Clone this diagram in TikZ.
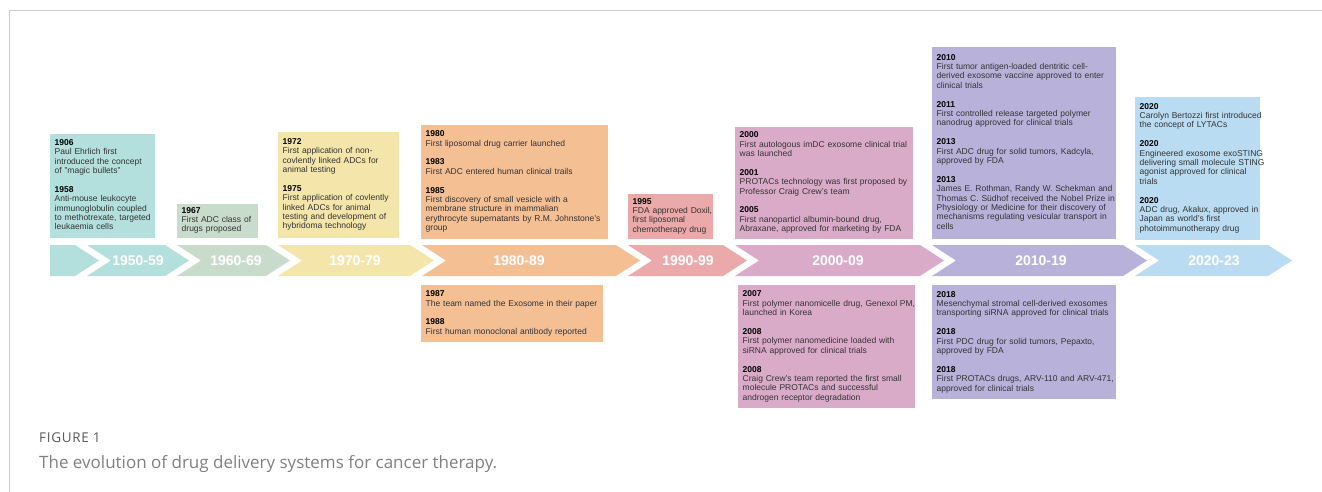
\documentclass[tikz,border=0pt]{standalone}
\usepackage{fontspec}
\setmainfont{Liberation Sans}
\newfontfamily\capfont{Open Sans}
\newfontfamily\capfontsp[LetterSpace=5]{Open Sans}
\usetikzlibrary{positioning}

\definecolor{evTeal}{HTML}{B3E0DC}
\definecolor{evGreen}{HTML}{C9DCCB}
\definecolor{evYellow}{HTML}{F4E6AA}
\definecolor{evOrange}{HTML}{F5BF94}
\definecolor{evPink}{HTML}{EBA9A9}
\definecolor{evMauve}{HTML}{DAABC9}
\definecolor{evLav}{HTML}{B8B2DA}
\definecolor{evBlue}{HTML}{BADCF2}
\definecolor{evText}{HTML}{333333}
\definecolor{evFrame}{HTML}{CCCCCC}

\newcommand{\evfont}{\fontsize{8.5}{9.4}\selectfont}
\newcommand{\yr}[1]{\textbf{\color{black}#1}\\}
\newcommand{\evgap}{\\[9.4pt]}
\newcommand{\evlines}[1]{\begin{tabular}{@{}l@{}}#1\end{tabular}}

% one chevron of the time band
\newcommand{\evchev}[6]{
	\pgfmathsetmacro{\CHl}{#1}
	\pgfmathsetmacro{\CHr}{#2}
	\fill[#3] (\CHl,245) -- (\CHr,245) -- (\CHr+24,260.5) -- (\CHr,276) -- (\CHl,276) -- (\CHl+24,260.5) -- cycle;
	\node[chevlabel] (#4) at (#5,260.5) {#6};
}

\tikzset{
	evbox/.style={fill=#1, inner xsep=4.5pt, inner ysep=3pt, align=left, font=\evfont, text=evText},
	chevlabel/.style={text=white, font=\bfseries\fontsize{14}{16}\selectfont},
}

\begin{document}
\begin{tikzpicture}[x=1pt,y=-1pt]
\useasboundingbox (0,0) rectangle (1322,492);
\draw[evFrame, line width=1pt] (9,492) -- (9,11) -- (1322,11);

% time band
\fill[evTeal] (50,245) -- (75,245) -- (99,260.5) -- (75,276) -- (50,276) -- cycle;
\evchev{87}{165}{evTeal}{p1950}{138}{1950-59}
\evchev{177}{266}{evGreen}{p1960}{236}{1960-69}
\evchev{278}{410}{evYellow}{p1970}{355}{1970-79}
\evchev{422}{616}{evOrange}{p1980}{519}{1980-89}
\evchev{628}{723}{evPink}{p1990}{688}{1990-99}
\evchev{735}{920}{evMauve}{p2000}{838}{2000-09}
\evchev{932}{1123}{evLav}{p2010}{1041}{2010-19}
\evchev{1135}{1268}{evBlue}{p2020}{1214}{2020-23}

% events above the band
\node[evbox=evTeal, text width=96pt, minimum height=104pt, anchor=south west] (b1906) at (50,238)
	{\evlines{\yr{1906}Paul Ehrlich first\\introduced the concept\\of "magic bullets"\evgap
	 \yr{1958}Anti-mouse leukocyte\\immunoglobulin coupled\\to methotrexate, targeted\\leukaemia cells}};
\node[evbox=evGreen, text width=72pt, minimum height=34pt, anchor=south west] (b1967) at (177,238)
	{\evlines{\yr{1967}First ADC class of\\drugs proposed}};
\node[evbox=evYellow, text width=112pt, minimum height=106pt, anchor=south west] (b1972) at (278,238)
	{\evlines{\yr{1972}First application of non-\\covlently linked ADCs for\\animal testing\evgap
	 \yr{1975}First application of covlently\\linked ADCs for animal\\testing and development of\\hybridoma technology}};
\node[evbox=evOrange, text width=178pt, minimum height=114pt, anchor=south west] (b1980) at (421,239)
	{\evlines{\yr{1980}First liposomal drug carrier launched\evgap
	 \yr{1983}First ADC entered human clinical trails\evgap
	 \yr{1985}First discovery of small vesicle with a\\membrane structure in mammalian\\erythrocyte supernatants by R.M. Johnstone's\\group}};
\node[evbox=evPink, text width=76pt, minimum height=45pt, anchor=south west] (b1995) at (628,239)
	{\evlines{\yr{1995}FDA approved Doxil,\\first liposomal\\chemotherapy drug}};
\node[evbox=evMauve, text width=169pt, minimum height=112pt, anchor=south west] (b2000) at (735,239)
	{\evlines{\yr{2000}First autologous imDC exosome clinical trial\\was launched\evgap
	 \yr{2001}PROTACs technology was first proposed by\\Professor Craig Crew's team\evgap
	 \yr{2005}First nanoparticl albumin-bound drug,\\Abraxane, approved for marketing by FDA}};
\node[evbox=evLav, text width=175pt, minimum height=192pt, anchor=south west] (b2010) at (932,239)
	{\evlines{\yr{2010}First tumor antigen-loaded dentritic cell-\\derived exosome vaccine approved to enter\\clinical trials\evgap
	 \yr{2011}First controlled release targeted polymer\\nanodrug approved for clinical trials\evgap
	 \yr{2013}First ADC drug for solid tumors, Kadcyla,\\approved by FDA\evgap
	 \yr{2013}James E. Rothman, Randy W. Schekman and\\Thomas C. Südhof received the Nobel Prize in\\Physiology or Medicine for their discovery of\\mechanisms regulating vesicular transport in\\cells}};
\node[evbox=evBlue, text width=116pt, minimum height=143pt, anchor=south west] (b2020) at (1135,240)
	{\evlines{\yr{2020}Carolyn Bertozzi first introduced\\the concept of LYTACs\evgap
	 \yr{2020}Engineered exosome exoSTING\\delivering small molecule STING\\agonist approved for clinical\\trials\evgap
	 \yr{2020}ADC drug, Akalux, approved in\\Japan as world's first\\photoimmunotherapy drug}};

% events below the band
\node[evbox=evOrange, text width=173pt, minimum height=57pt, anchor=north west] (b1987) at (421,285)
	{\evlines{\yr{1987}The team named the Exosome in their paper\evgap
	 \yr{1988}First human monoclonal antibody reported}};
\node[evbox=evMauve, text width=168pt, minimum height=123pt, anchor=north west] (b2007) at (738,285)
	{\evlines{\yr{2007}First polymer nanomicelle drug, Genexol PM,\\launched in Korea\evgap
	 \yr{2008}First polymer nanomedicine loaded with\\siRNA approved for clinical trials\evgap
	 \yr{2008}Craig Crew's team reported the first small\\molecule PROTACs and successful\\androgen receptor degradation}};
\node[evbox=evLav, text width=175pt, minimum height=114pt, anchor=north west] (b2018) at (932,285)
	{\evlines{\yr{2018}Mesenchymal stromal cell-derived exosomes\\transporting siRNA approved for clinical trials\evgap
	 \yr{2018}First PDC drug for solid tumors, Pepaxto,\\approved by FDA\evgap
	 \yr{2018}First PROTACs drugs, ARV-110 and ARV-471,\\approved for clinical trials}};

% caption
\node[anchor=base west, inner sep=0pt, text=black!65, font=\capfontsp\fontsize{13.5}{15}\selectfont] (figno) at (39,442) {FIGURE 1};
\node[anchor=base west, inner sep=0pt, text=black!50, font=\capfont\fontsize{17}{20}\selectfont] (figcap) at (39,468) {The evolution of drug delivery systems for cancer therapy.};
\end{tikzpicture}
\end{document}
